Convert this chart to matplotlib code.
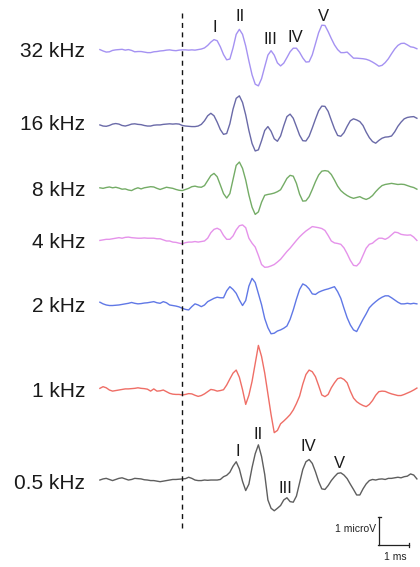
#!/usr/bin/env python3
"""ABR waveforms for tone bursts from 32 kHz down to 0.5 kHz, stacked, with a stimulus-onset marker."""

import matplotlib

matplotlib.use("Agg")
import matplotlib.pyplot as plt
import numpy as np

plt.rcParams["font.family"] = ["Liberation Sans", "DejaVu Sans"]
plt.rcParams["lines.scale_dashes"] = False

# sample grid in ms (0 = stimulus onset), one value every 0.1 ms
TIME_MS = np.round(np.arange(-2.6, 7.41, 0.1), 1)

FREQ_LABELS = ["32 kHz", "16 kHz", "8 kHz", "4 kHz", "2 kHz", "1 kHz", "0.5 kHz"]

# amplitudes in microvolts (26 pre-stimulus + 75 post-stimulus samples)
AMP_32K = [
    0.05, 0.00, -0.04, -0.03, 0.02, 0.04, 0.05, 0.06, 0.03, 0.05, 0.02, -0.03, -0.02,
    -0.02, -0.04, -0.06, -0.06, -0.03, -0.02, 0.00, 0.01, 0.03, 0.04, 0.02, 0.01, 0.03,
    0.04, 0.04, 0.03, 0.04, 0.03, 0.05, 0.07, 0.11, 0.20, 0.32,
    0.41, 0.37, 0.15, -0.13, -0.32, -0.29, 0.11, 0.60, 0.78, 0.60,
    0.18, -0.36, -0.86, -1.20, -1.26, -1.00, -0.57, -0.15, 0.01, -0.15,
    -0.43, -0.54, -0.44, -0.24, -0.03, 0.10, 0.10, -0.05, -0.25, -0.40,
    -0.39, -0.14, 0.26, 0.66, 0.93, 0.92, 0.70, 0.45, 0.22, 0.05,
    -0.06, -0.06, -0.04, -0.15, -0.26, -0.26, -0.27, -0.28, -0.30, -0.34,
    -0.40, -0.47, -0.55, -0.52, -0.42, -0.28, -0.10, 0.07, 0.20, 0.27,
    0.28, 0.22, 0.15, 0.13, 0.08,
]
AMP_16K = [
    0.00, -0.04, -0.05, -0.02, 0.03, 0.05, 0.03, -0.02, -0.04, -0.01, 0.03, 0.04, 0.02,
    0.01, -0.02, -0.04, -0.04, -0.01, 0.00, 0.00, 0.02, 0.03, 0.04, 0.03, 0.04, 0.03,
    -0.02, -0.04, -0.05, -0.06, -0.06, -0.04, 0.02, 0.15, 0.33, 0.42,
    0.33, 0.10, -0.17, -0.34, -0.31, 0.04, 0.57, 0.96, 1.05, 0.81,
    0.36, -0.20, -0.67, -0.94, -0.90, -0.57, -0.20, -0.06, -0.23, -0.50,
    -0.59, -0.40, -0.03, 0.30, 0.39, 0.24, -0.06, -0.37, -0.57, -0.58,
    -0.41, -0.11, 0.21, 0.51, 0.68, 0.67, 0.49, 0.17, -0.14, -0.38,
    -0.41, -0.28, -0.05, 0.15, 0.22, 0.18, 0.12, -0.02, -0.26, -0.46,
    -0.60, -0.66, -0.56, -0.48, -0.44, -0.43, -0.40, -0.25, -0.05, 0.10,
    0.22, 0.27, 0.29, 0.30, 0.24,
]
AMP_8K = [
    0.02, 0.00, 0.03, 0.05, 0.02, 0.04, 0.01, -0.03, -0.02, -0.06, -0.08, -0.02, 0.02,
    -0.02, 0.02, 0.04, 0.06, 0.05, 0.00, -0.04, 0.00, 0.04, 0.02, 0.00, -0.04, -0.07,
    -0.08, -0.04, 0.00, 0.06, 0.08, 0.05, 0.04, 0.10, 0.28, 0.46,
    0.54, 0.42, 0.12, -0.19, -0.35, -0.19, 0.32, 0.83, 0.95, 0.72,
    0.30, -0.24, -0.68, -0.94, -0.85, -0.50, -0.25, -0.22, -0.20, -0.17,
    -0.12, -0.05, 0.15, 0.36, 0.47, 0.44, 0.18, -0.21, -0.46, -0.45,
    -0.30, -0.04, 0.24, 0.48, 0.62, 0.64, 0.62, 0.50, 0.30, 0.08,
    -0.08, -0.18, -0.26, -0.32, -0.36, -0.33, -0.30, -0.36, -0.40, -0.35,
    -0.26, -0.12, 0.00, 0.10, 0.14, 0.16, 0.18, 0.16, 0.14, 0.15,
    0.14, 0.10, 0.06, 0.03, -0.03,
]
AMP_4K = [
    -0.08, -0.06, -0.04, -0.04, -0.02, 0.00, 0.02, 0.00, 0.03, 0.04, 0.02, 0.01, 0.00,
    0.00, 0.01, 0.00, 0.00, 0.00, -0.02, -0.02, -0.06, -0.10, -0.10, -0.14, -0.15, -0.18,
    -0.20, -0.16, -0.14, -0.14, -0.12, -0.14, -0.12, -0.10, 0.00, 0.20,
    0.32, 0.36, 0.30, 0.10, -0.04, -0.04, 0.08, 0.30, 0.45, 0.48,
    0.38, 0.00, -0.18, -0.32, -0.62, -0.95, -1.05, -1.04, -1.00, -0.95,
    -0.86, -0.76, -0.62, -0.48, -0.36, -0.22, -0.08, 0.05, 0.16, 0.26,
    0.34, 0.42, 0.40, 0.38, 0.35, 0.28, 0.10, -0.10, -0.17, -0.19,
    -0.22, -0.35, -0.56, -0.80, -0.98, -1.00, -0.88, -0.62, -0.36, -0.22,
    -0.18, -0.08, 0.00, 0.00, -0.04, 0.02, 0.12, 0.22, 0.20, 0.14,
    0.12, 0.11, 0.12, 0.04, -0.08,
]
AMP_2K = [
    0.04, -0.02, -0.06, -0.08, -0.08, -0.07, -0.06, -0.04, -0.02, 0.00, 0.03, 0.00, -0.02,
    -0.01, 0.01, 0.02, 0.04, 0.06, 0.02, 0.00, 0.06, 0.02, -0.06, -0.08, -0.10, -0.13,
    -0.18, -0.22, -0.24, -0.12, -0.02, -0.06, -0.12, -0.06, 0.06, 0.12,
    0.18, 0.22, 0.20, 0.20, 0.45, 0.60, 0.50, 0.36, 0.12, -0.08,
    0.10, 0.62, 0.90, 0.75, 0.35, -0.05, -0.55, -0.88, -1.10, -1.08,
    -1.00, -0.96, -0.90, -0.82, -0.58, -0.24, 0.15, 0.50, 0.70, 0.64,
    0.52, 0.34, 0.32, 0.40, 0.45, 0.49, 0.52, 0.56, 0.60, 0.42,
    0.18, -0.18, -0.52, -0.78, -0.96, -1.02, -0.80, -0.58, -0.38, -0.16,
    -0.04, 0.06, 0.15, 0.22, 0.27, 0.27, 0.20, 0.12, 0.04, -0.02,
    -0.02, 0.00, -0.02, 0.00, -0.02,
]
AMP_1K = [
    0.00, 0.06, 0.02, -0.06, -0.10, -0.08, -0.06, -0.04, -0.02, -0.02, -0.01, 0.00, 0.02,
    0.00, -0.01, -0.03, -0.10, -0.02, -0.10, -0.09, -0.06, -0.12, -0.18, -0.21, -0.22, -0.22,
    -0.24, -0.22, -0.19, -0.20, -0.25, -0.29, -0.26, -0.20, -0.12, -0.04,
    -0.06, -0.10, -0.08, -0.05, 0.12, 0.34, 0.55, 0.66, 0.40, -0.05,
    -0.58, -0.25, 0.25, 0.90, 1.55, 1.15, 0.55, -0.20, -0.95, -1.60,
    -1.52, -1.28, -1.18, -1.07, -0.95, -0.78, -0.55, -0.28, 0.15, 0.50,
    0.66, 0.60, 0.42, 0.10, -0.24, -0.30, -0.22, 0.02, 0.20, 0.35,
    0.38, 0.32, 0.20, -0.10, -0.35, -0.48, -0.56, -0.62, -0.66, -0.58,
    -0.44, -0.25, -0.12, -0.10, -0.11, -0.16, -0.20, -0.23, -0.26, -0.26,
    -0.22, -0.17, -0.12, -0.06, 0.01,
]
AMP_05K = [
    0.00, 0.04, 0.06, 0.02, -0.02, 0.02, 0.06, 0.08, 0.04, 0.00, 0.02, 0.06, 0.05,
    0.04, 0.01, 0.00, -0.02, -0.02, -0.04, -0.06, -0.04, -0.02, 0.00, 0.02, 0.02, 0.03,
    0.04, 0.05, 0.10, 0.06, 0.00, -0.02, -0.02, 0.00, -0.01, 0.00,
    0.00, 0.00, 0.02, 0.12, 0.17, 0.28, 0.50, 0.66, 0.40, -0.05,
    -0.38, -0.15, 0.45, 0.95, 1.27, 0.85, 0.20, -0.72, -1.02, -1.11,
    -1.02, -0.92, -0.72, -0.64, -0.78, -0.80, -0.58, -0.10, 0.38, 0.66,
    0.74, 0.60, 0.30, -0.05, -0.32, -0.34, -0.20, -0.02, 0.12, 0.24,
    0.26, 0.18, 0.05, -0.15, -0.34, -0.54, -0.54, -0.32, -0.14, -0.02,
    0.02, 0.00, 0.03, 0.04, 0.02, 0.06, 0.06, 0.08, 0.10, 0.08,
    0.12, 0.14, 0.22, 0.18, 0.04,
]
TRACES = [AMP_32K, AMP_16K, AMP_8K, AMP_4K, AMP_2K, AMP_1K, AMP_05K]

# wave labels: (text, ms, microV above the trace baseline)
WAVES_32K = [("I", 1.03, 0.83), ("II", 1.81, 1.23), ("III", 2.77, 0.40), ("IV", 3.56, 0.47), ("V", 4.44, 1.26)]
WAVES_05K = [("I", 1.74, 1.02), ("II", 2.40, 1.63), ("III", 3.26, -0.32), ("IV", 3.97, 1.20), ("V", 4.97, 0.60)]

# layout: vertical baseline of each trace (microV units) and colours
OFFSETS = [18.63, 15.96, 13.67, 11.87, 9.52, 6.45, 3.14]
LABEL_DY = [-0.03, 0.0, -0.06, -0.16, -0.12, -0.12, -0.11]
COLORS = ["#a592f2", "#6a6aa8", "#74ac66", "#e592ea", "#6078e6", "#ef6e66", "#5e5e5e"]


def main() -> None:
    fig = plt.figure(figsize=(4.2, 5.67), dpi=100)
    ax = fig.add_axes([0, 0, 1, 1])
    ax.set_xlim(-5.751, 7.498)
    ax.set_ylim(0, 20.47)
    ax.axis("off")

    for label, amps, off, dy, color in zip(FREQ_LABELS, TRACES, OFFSETS, LABEL_DY, COLORS):
        ax.plot(TIME_MS, np.asarray(amps) + off, color=color, lw=1.0, solid_joinstyle="round")
        ax.text(-3.07, off + dy, label, ha="right", va="center", fontsize=15, color="#1a1a1a")

    for waves, off in ((WAVES_32K, OFFSETS[0]), (WAVES_05K, OFFSETS[-1])):
        for name, t, v in waves:
            ax.text(t, off + v, name, ha="center", va="center", fontsize=12, color="#1a1a1a")

    # stimulus onset
    ax.plot([0, 0], [1.41, 20.0], color="#111111", lw=1.0, dashes=(3.6, 3.2))

    # scale bar: 1 microV x 1 ms
    bx, by = 6.21, 0.79
    ax.plot([bx, bx], [by, by + 1.0], color="#222222", lw=0.9)
    ax.plot([bx - 0.05, bx + 0.05], [by + 1.0, by + 1.0], color="#222222", lw=0.9)
    ax.plot([bx - 0.05, bx + 0.95], [by, by], color="#222222", lw=0.9)
    ax.plot([bx + 0.95, bx + 0.95], [by - 0.08, by + 0.08], color="#222222", lw=0.9)
    ax.text(bx - 0.09, by + 0.57, "1 microV", ha="right", va="center", fontsize=7.5, color="#222222")
    ax.text(bx + 0.5, by - 0.42, "1 ms", ha="center", va="center", fontsize=7.5, color="#222222")

    fig.savefig("out.png", dpi=100)
    plt.close(fig)


if __name__ == "__main__":
    main()
